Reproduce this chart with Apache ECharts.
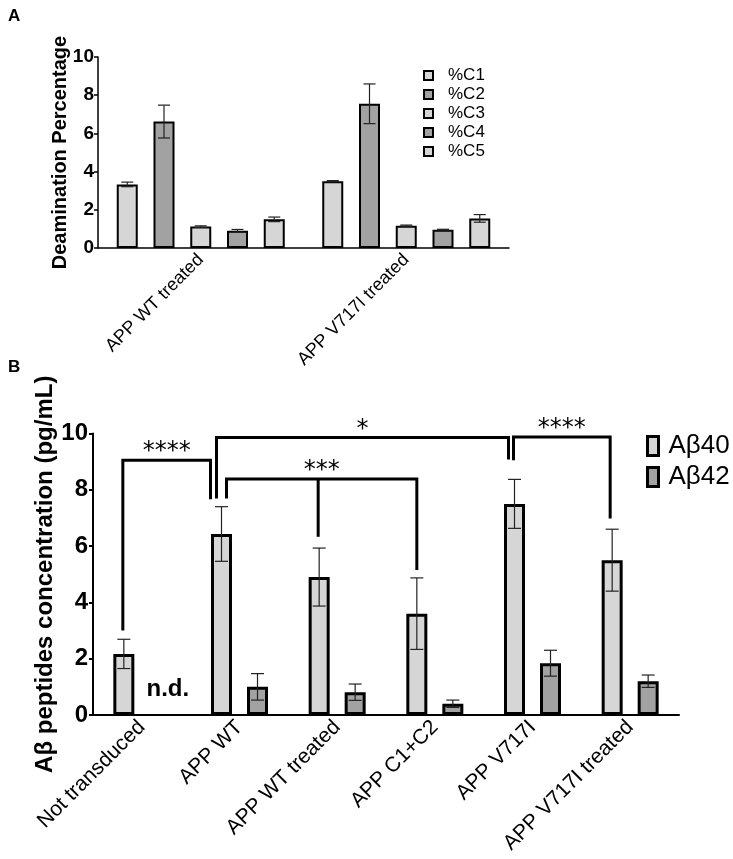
<!DOCTYPE html>
<html><head><meta charset="utf-8">
<script src="https://cdn.jsdelivr.net/npm/echarts@6/dist/echarts.min.js"></script>
<style>html,body{margin:0;padding:0;background:#fff}#c{width:733px;height:859px}</style>
</head><body><div id="c"></div><script>
// ---------- DATA ----------
const catA = ['APP WT treated', 'APP V717I treated'];
const namesA = ['%C1', '%C2', '%C3', '%C4', '%C5'];
const c1Mean = [3.33, 3.50], c1Err = [0.12, 0.03];
const c2Mean = [6.62, 7.55], c2Err = [0.86, 1.04];
const c3Mean = [1.12, 1.17], c3Err = [0.04, 0.03];
const c4Mean = [0.90, 0.96], c4Err = [0.07, 0.02];
const c5Mean = [1.50, 1.55], c5Err = [0.12, 0.20];
const yTicksA = [0, 2, 4, 6, 8, 10];

const catB = ['Not transduced', 'APP WT', 'APP WT treated', 'APP C1+C2', 'APP V717I', 'APP V717I treated'];
const namesB = ['Aβ40', 'Aβ42'];
const ab40Mean = [2.17, 6.43, 4.90, 3.60, 7.50, 5.50];
const ab40Err  = [0.52, 0.97, 1.03, 1.27, 0.87, 1.10];
const ab42Mean = [null, 1.00, 0.81, 0.40, 1.84, 1.20];
const ab42Err  = [null, 0.47, 0.29, 0.13, 0.46, 0.22];
const yTicksB = [0, 2, 4, 6, 8, 10];

const sigLabels  = ['****', '*', '***', '****'];
const sigHeights = [9.05, 9.86, 8.38, 9.88];
const sigLegCats = [[0, 1], [1, 4], [1, 2, 3], [4, 5]];
const sigLegEnds = [[3.0, 7.66], [7.69, 9.08], [7.69, 6.33, 5.15], [9.05, 6.98]];
const ndCategory = 0, ndText = 'n.d.';

// ---------- STYLE ----------
const F = '"Liberation Sans", Arial, Helvetica, sans-serif';
const LIGHT = '#d6d6d6', DARK = '#a2a2a2';
const bwA = 21, gapA = 15.75, bwB = 21, gapB = 15;
const legNudge = [[-1, -11], [-5, -6], [5, -1, 0], [-1, -2]];

const meansA = [c1Mean, c2Mean, c3Mean, c4Mean, c5Mean];
const errsA = [c1Err, c2Err, c3Err, c4Err, c5Err];
const meansB = [ab40Mean, ab42Mean];
const errsB = [ab40Err, ab42Err];

function errBar(offset, cap) {
  return function (params, api) {
    const c = api.value(0), m = api.value(1), e = api.value(2);
    const p1 = api.coord([c, m + e]), p2 = api.coord([c, m - e]);
    const x = p1[0] + offset;
    const st = { stroke: '#222', lineWidth: 1.2 };
    return { type: 'group', children: [
      { type: 'line', shape: { x1: x, y1: p1[1], x2: x, y2: p2[1] }, style: st },
      { type: 'line', shape: { x1: x - cap, y1: p1[1], x2: x + cap, y2: p1[1] }, style: st },
      { type: 'line', shape: { x1: x - cap, y1: p2[1], x2: x + cap, y2: p2[1] }, style: st }
    ]};
  };
}

const series = [];
namesA.forEach((n, i) => {
  series.push({ type: 'bar', name: n, xAxisIndex: 0, yAxisIndex: 0, data: meansA[i],
    barWidth: bwA, barGap: (gapA / bwA * 100) + '%',
    itemStyle: { color: i % 2 ? DARK : LIGHT, borderColor: '#000', borderWidth: 2 } });
});
namesA.forEach((n, i) => {
  series.push({ type: 'custom', xAxisIndex: 0, yAxisIndex: 0, z: 5,
    renderItem: errBar((i - 2) * (bwA + gapA), 6),
    data: meansA[i].map((m, k) => [k, m, errsA[i][k]]) });
});
namesB.forEach((n, i) => {
  series.push({ type: 'bar', name: n, xAxisIndex: 1, yAxisIndex: 1, data: meansB[i],
    barWidth: bwB, barGap: (gapB / bwB * 100) + '%',
    itemStyle: { color: i ? DARK : LIGHT, borderColor: '#000', borderWidth: 3 } });
});
namesB.forEach((n, i) => {
  series.push({ type: 'custom', xAxisIndex: 1, yAxisIndex: 1, z: 5,
    renderItem: errBar((i - 0.5) * (bwB + gapB), 6.5),
    data: meansB[i].map((m, k) => m == null ? null : [k, m, errsB[i][k]]).filter(d => d) });
});
// significance brackets
series.push({ type: 'custom', xAxisIndex: 1, yAxisIndex: 1, z: 6,
  data: sigLabels.map((l, k) => [sigLegCats[k][0], sigHeights[k], k]),
  renderItem: function (params, api) {
    const k = api.value(2);
    const off = -0.5 * (bwB + gapB);
    const yTop = api.coord([0, sigHeights[k]])[1];
    const xs = sigLegCats[k].map((c, j) => api.coord([c, 0])[0] + off + legNudge[k][j]);
    const ys = sigLegEnds[k].map(v => api.coord([0, v])[1]);
    const st = { stroke: '#000', lineWidth: 3, fill: null, lineJoin: 'miter' };
    const last = xs.length - 1;
    const ch = [{ type: 'polyline', shape: { points: [[xs[0], ys[0]], [xs[0], yTop], [xs[last], yTop], [xs[last], ys[last]]] }, style: st }];
    for (let j = 1; j < last; j++) {
      ch.push({ type: 'line', shape: { x1: xs[j], y1: yTop, x2: xs[j], y2: ys[j] }, style: st });
    }
    ch.push({ type: 'text', style: { text: sigLabels[k], x: (xs[0] + xs[last]) / 2, y: yTop - 8,
      align: 'center', verticalAlign: 'middle', font: '24px "DejaVu Sans", sans-serif', fill: '#000' } });
    return { type: 'group', children: ch };
  }
});
// n.d. label
series.push({ type: 'custom', xAxisIndex: 1, yAxisIndex: 1, z: 6,
  data: [[ndCategory, 0]],
  renderItem: function (params, api) {
    const p = api.coord([api.value(0), api.value(1)]);
    return { type: 'text', style: { text: ndText, x: p[0] + 26, y: p[1] - 26, align: 'center', verticalAlign: 'middle',
      font: 'bold 24px ' + F, fill: '#000' } };
  }
});

const axisCol = '#000';
const option = {
  animation: false,
  backgroundColor: '#fff',
  title: [
    { text: 'A', left: 3, top: 3, textStyle: { fontSize: 17, fontWeight: 'bold', fontFamily: F, color: '#000' } },
    { text: 'B', left: 3, top: 354, textStyle: { fontSize: 17, fontWeight: 'bold', fontFamily: F, color: '#000' } }
  ],
  legend: [
    { data: namesA, orient: 'vertical', left: 418, top: 62, itemWidth: 9, itemHeight: 9, itemGap: 2, icon: 'rect',
      textStyle: { fontSize: 17, fontFamily: F, color: '#000', padding: [0, 0, 0, 10] },
      itemStyle: { borderColor: '#000', borderWidth: 2 } },
    { data: namesB, orient: 'vertical', left: 641, top: 428, itemWidth: 11, itemHeight: 19, itemGap: 5, icon: 'rect',
      textStyle: { fontSize: 26, fontFamily: F, color: '#000', padding: [0, 0, 0, 5] },
      itemStyle: { borderColor: '#000', borderWidth: 3 } }
  ],
  grid: [
    { left: 98, top: 57, width: 411, height: 191 },
    { left: 93, top: 433.5, width: 586, height: 281.5 }
  ],
  xAxis: [
    { gridIndex: 0, type: 'category', data: catA,
      axisLine: { lineStyle: { color: axisCol, width: 1.5 } },
      axisTick: { alignWithLabel: true, length: 5, lineStyle: { color: axisCol, width: 1.5 } },
      axisLabel: { rotate: 45, fontSize: 18, fontFamily: F, color: '#000', margin: 9 } },
    { gridIndex: 1, type: 'category', data: catB,
      axisLine: { lineStyle: { color: axisCol, width: 2 } },
      axisTick: { alignWithLabel: true, length: 5, lineStyle: { color: axisCol, width: 2 } },
      axisLabel: { rotate: 45, fontSize: 21, fontFamily: F, color: '#000', margin: 9, interval: 0 } }
  ],
  yAxis: [
    { gridIndex: 0, type: 'value', min: yTicksA[0], max: yTicksA[yTicksA.length - 1], interval: yTicksA[1] - yTicksA[0],
      name: 'Deamination Percentage', nameLocation: 'middle', nameGap: 28, nameMoveOverlap: false,
      nameTextStyle: { fontSize: 20, fontWeight: 'bold', fontFamily: F, color: '#000' },
      axisLine: { show: true, lineStyle: { color: axisCol, width: 1.5 } },
      axisTick: { show: true, length: 4, lineStyle: { color: axisCol, width: 1.5 } },
      axisLabel: { fontSize: 19, fontWeight: 'bold', fontFamily: F, color: '#000', margin: 4 },
      splitLine: { show: false } },
    { gridIndex: 1, type: 'value', min: yTicksB[0], max: yTicksB[yTicksB.length - 1], interval: yTicksB[1] - yTicksB[0],
      name: 'Aβ peptides concentration (pg/mL)', nameLocation: 'middle', nameGap: 36, nameMoveOverlap: false,
      nameTextStyle: { fontSize: 24, fontWeight: 'bold', fontFamily: F, color: '#000' },
      axisLine: { show: true, lineStyle: { color: axisCol, width: 2 } },
      axisTick: { show: true, length: 4, lineStyle: { color: axisCol, width: 2 } },
      axisLabel: { fontSize: 24, fontWeight: 'bold', fontFamily: F, color: '#000', margin: 5 },
      splitLine: { show: false } }
  ],
  series: series
};
const chart = echarts.init(document.getElementById('c'), null, { renderer: 'canvas' });
chart.setOption(option);
</script></body></html>
